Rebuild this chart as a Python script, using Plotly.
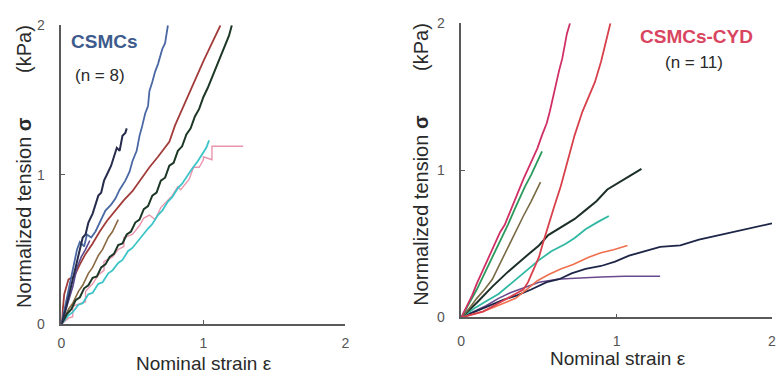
import plotly.graph_objects as go

W, H = 777, 382

# ---------------- Left panel: CSMCs (n = 8) ----------------
L_navy_x = [0, 0.03, 0.06, 0.08, 0.11, 0.13, 0.15, 0.17, 0.19, 0.22, 0.24, 0.26, 0.28, 0.30, 0.33, 0.35, 0.37, 0.39, 0.41, 0.43, 0.45, 0.46]
L_navy_y = [0, 0.10, 0.22, 0.30, 0.42, 0.50, 0.58, 0.60, 0.68, 0.74, 0.80, 0.86, 0.88, 0.96, 1.02, 1.06, 1.12, 1.18, 1.16, 1.26, 1.28, 1.31]

L_blue_x = [0, 0.03, 0.06, 0.09, 0.11, 0.13, 0.16, 0.18, 0.21, 0.24, 0.27, 0.31, 0.35, 0.38, 0.41, 0.45, 0.48, 0.50, 0.53, 0.55, 0.57, 0.59, 0.61, 0.62, 0.64, 0.66, 0.68, 0.71, 0.73, 0.74, 0.75]
L_blue_y = [0, 0.14, 0.28, 0.42, 0.50, 0.55, 0.52, 0.60, 0.58, 0.62, 0.68, 0.76, 0.80, 0.84, 0.90, 0.96, 1.02, 1.09, 1.16, 1.26, 1.33, 1.41, 1.46, 1.56, 1.62, 1.69, 1.74, 1.84, 1.88, 1.94, 2.00]

L_maroon_x = [0, 0.02, 0.05, 0.09, 0.13, 0.17, 0.22, 0.27, 0.32, 0.38, 0.44, 0.50, 0.56, 0.62, 0.68, 0.72, 0.76, 0.80, 0.85, 0.90, 0.95, 1.00, 1.05, 1.09, 1.12]
L_maroon_y = [0, 0.20, 0.30, 0.32, 0.40, 0.47, 0.54, 0.62, 0.69, 0.76, 0.83, 0.89, 0.97, 1.05, 1.12, 1.17, 1.22, 1.33, 1.44, 1.55, 1.66, 1.76, 1.86, 1.94, 2.00]

L_dkgreen_x = [0, 0.04, 0.07, 0.10, 0.13, 0.16, 0.19, 0.22, 0.25, 0.28, 0.31, 0.34, 0.37, 0.40, 0.43, 0.46, 0.49, 0.52, 0.55, 0.58, 0.61,
               0.64, 0.67, 0.70, 0.73, 0.76, 0.79, 0.82, 0.85, 0.88, 0.91, 0.94, 0.97, 1.00, 1.03, 1.06, 1.09, 1.12, 1.15, 1.18, 1.20]
L_dkgreen_y = [0, 0.07, 0.10, 0.16, 0.18, 0.24, 0.26, 0.31, 0.32, 0.38, 0.40, 0.45, 0.47, 0.53, 0.54, 0.60, 0.62, 0.68, 0.70, 0.77, 0.79,
               0.86, 0.88, 0.96, 0.98, 1.06, 1.08, 1.16, 1.19, 1.27, 1.31, 1.39, 1.44, 1.52, 1.58, 1.65, 1.72, 1.78, 1.86, 1.93, 2.00]

L_olive_x = [0, 0.05, 0.08, 0.12, 0.15, 0.19, 0.22, 0.26, 0.29, 0.33, 0.36, 0.40]
L_olive_y = [0, 0.10, 0.14, 0.22, 0.26, 0.34, 0.38, 0.46, 0.50, 0.58, 0.62, 0.70]

L_cyan_x = [0, 0.05, 0.08, 0.12, 0.15, 0.19, 0.22, 0.26, 0.29, 0.33, 0.36, 0.40, 0.43, 0.47, 0.50, 0.54, 0.57, 0.61, 0.64, 0.68,
            0.71, 0.75, 0.78, 0.82, 0.85, 0.89, 0.92, 0.96, 0.99, 1.02, 1.04]
L_cyan_y = [0, 0.06, 0.08, 0.13, 0.14, 0.20, 0.21, 0.27, 0.28, 0.34, 0.36, 0.41, 0.43, 0.49, 0.51, 0.56, 0.59, 0.64, 0.67, 0.73,
            0.76, 0.82, 0.85, 0.91, 0.94, 1.00, 1.04, 1.09, 1.14, 1.18, 1.23]

L_pink_x = [0, 0.05, 0.08, 0.08, 0.14, 0.17, 0.17, 0.22, 0.26, 0.30, 0.30, 0.36, 0.40, 0.44, 0.44, 0.50, 0.55, 0.58, 0.62, 0.66,
            0.70, 0.72, 0.78, 0.82, 0.84, 0.90, 0.93, 0.97, 1.00, 1.00, 1.06, 1.06, 1.28]
L_pink_y = [0, 0.04, 0.05, 0.12, 0.14, 0.15, 0.22, 0.27, 0.33, 0.36, 0.42, 0.45, 0.50, 0.52, 0.58, 0.60, 0.66, 0.71, 0.73, 0.70,
            0.78, 0.80, 0.86, 0.92, 0.90, 0.97, 1.05, 1.05, 1.10, 1.12, 1.10, 1.19, 1.19]

L_purple_x = [0, 0.04, 0.08, 0.11, 0.14, 0.17, 0.20]
L_purple_y = [0, 0.12, 0.25, 0.38, 0.45, 0.50, 0.56]

# ---------------- Right panel: CSMCs-CYD (n = 11) ----------------
R_magenta_x = [0, 0.04, 0.07, 0.10, 0.13, 0.16, 0.19, 0.22, 0.25, 0.28, 0.31, 0.34, 0.37, 0.40, 0.43, 0.46, 0.49, 0.52, 0.55,
               0.57, 0.59, 0.61, 0.63, 0.65, 0.67, 0.68, 0.70]
R_magenta_y = [0, 0.09, 0.15, 0.23, 0.30, 0.37, 0.45, 0.52, 0.58, 0.63, 0.71, 0.78, 0.87, 0.94, 1.01, 1.08, 1.15, 1.24, 1.32,
               1.40, 1.50, 1.58, 1.68, 1.76, 1.86, 1.93, 2.00]

R_red_x = [0, 0.07, 0.14, 0.21, 0.28, 0.34, 0.40, 0.43, 0.46, 0.50, 0.53, 0.56, 0.60, 0.64, 0.68, 0.73, 0.78, 0.82, 0.86, 0.90, 0.93, 0.96]
R_red_y = [0, 0.02, 0.04, 0.08, 0.12, 0.15, 0.19, 0.24, 0.31, 0.41, 0.52, 0.63, 0.76, 0.89, 1.04, 1.24, 1.40, 1.50, 1.60, 1.74, 1.88, 2.00]

R_green_x = [0, 0.05, 0.10, 0.15, 0.20, 0.26, 0.30, 0.35, 0.41, 0.45, 0.49, 0.52]
R_green_y = [0, 0.09, 0.19, 0.30, 0.41, 0.54, 0.63, 0.75, 0.89, 0.97, 1.06, 1.13]

R_olive_x = [0, 0.05, 0.10, 0.15, 0.20, 0.25, 0.30, 0.35, 0.40, 0.45, 0.49, 0.51]
R_olive_y = [0, 0.06, 0.13, 0.19, 0.26, 0.37, 0.47, 0.58, 0.69, 0.79, 0.88, 0.92]

R_dkgreen_x = [0, 0.10, 0.20, 0.30, 0.41, 0.50, 0.56, 0.65, 0.73, 0.80, 0.87, 0.94, 1.00, 1.08, 1.16]
R_dkgreen_y = [0, 0.10, 0.21, 0.31, 0.41, 0.49, 0.56, 0.62, 0.67, 0.73, 0.79, 0.87, 0.91, 0.96, 1.01]

R_teal_x = [0, 0.08, 0.16, 0.24, 0.32, 0.41, 0.50, 0.58, 0.67, 0.73, 0.80, 0.88, 0.95]
R_teal_y = [0, 0.06, 0.11, 0.16, 0.23, 0.31, 0.39, 0.45, 0.50, 0.54, 0.60, 0.65, 0.69]

R_orange_x = [0, 0.07, 0.14, 0.21, 0.28, 0.35, 0.42, 0.49, 0.56, 0.64, 0.72, 0.82, 0.90, 0.98, 1.07]
R_orange_y = [0, 0.02, 0.04, 0.07, 0.10, 0.13, 0.19, 0.25, 0.29, 0.33, 0.36, 0.41, 0.44, 0.46, 0.49]

R_navy_x = [0, 0.09, 0.18, 0.27, 0.36, 0.45, 0.55, 0.63, 0.71, 0.80, 0.90, 0.99, 1.08, 1.18, 1.28, 1.41, 1.53, 1.66, 1.78, 1.90, 2.00]
R_navy_y = [0, 0.04, 0.08, 0.12, 0.15, 0.19, 0.24, 0.26, 0.30, 0.33, 0.35, 0.38, 0.42, 0.45, 0.48, 0.49, 0.53, 0.56, 0.59, 0.62, 0.64]

R_purple_x = [0, 0.08, 0.16, 0.24, 0.32, 0.40, 0.45, 0.50, 0.56, 0.62, 0.70, 0.77, 0.90, 1.05, 1.18, 1.28]
R_purple_y = [0, 0.04, 0.08, 0.13, 0.17, 0.20, 0.22, 0.24, 0.25, 0.26, 0.265, 0.27, 0.275, 0.28, 0.28, 0.28]

tick_vals = [0, 1, 2]
tick_text = ["0", "1", "2"]

left_series = [
    (L_pink_x, L_pink_y, "#ea94ae", 1.4),
    (L_cyan_x, L_cyan_y, "#3cc4c8", 1.8),
    (L_olive_x, L_olive_y, "#8a6a42", 1.6),
    (L_dkgreen_x, L_dkgreen_y, "#1d3826", 2.0),
    (L_maroon_x, L_maroon_y, "#a23c3a", 1.8),
    (L_purple_x, L_purple_y, "#5a4a90", 1.6),
    (L_blue_x, L_blue_y, "#4a68a4", 1.8),
    (L_navy_x, L_navy_y, "#272c4c", 2.0),
]
right_series = [
    (R_purple_x, R_purple_y, "#6a4a8e", 1.6),
    (R_navy_x, R_navy_y, "#1e2648", 1.8),
    (R_orange_x, R_orange_y, "#f0704e", 1.6),
    (R_teal_x, R_teal_y, "#2fb8a2", 1.8),
    (R_dkgreen_x, R_dkgreen_y, "#1d3028", 2.0),
    (R_olive_x, R_olive_y, "#786a44", 1.6),
    (R_green_x, R_green_y, "#2a9a5c", 1.8),
    (R_red_x, R_red_y, "#d8404c", 1.8),
    (R_magenta_x, R_magenta_y, "#d03064", 1.8),
]

fig = go.Figure()
for xs, ys, c, w in left_series:
    fig.add_trace(go.Scatter(x=xs, y=ys, mode="lines", xaxis="x", yaxis="y",
                             line=dict(color=c, width=w), showlegend=False, hoverinfo="skip"))
for xs, ys, c, w in right_series:
    fig.add_trace(go.Scatter(x=xs, y=ys, mode="lines", xaxis="x2", yaxis="y2",
                             line=dict(color=c, width=w), showlegend=False, hoverinfo="skip"))

def px_x(p):
    return p / W

def px_y(p):
    return 1 - p / H

axis_common = dict(showgrid=False, zeroline=False, showline=True, linecolor="#5a5a5a", linewidth=1.5,
                   ticks="inside", ticklen=4, tickwidth=1.2, tickcolor="#5a5a5a",
                   tickvals=tick_vals, ticktext=tick_text,
                   tickfont=dict(family="Arial", size=14, color="#555"), range=[0, 2], fixedrange=True)

fig.update_layout(
    width=W, height=H, margin=dict(l=0, r=0, t=0, b=0),
    paper_bgcolor="white", plot_bgcolor="white",
    xaxis=dict(domain=[px_x(58), px_x(345)], anchor="y", ticklabelstandoff=5, **axis_common),
    yaxis=dict(domain=[px_y(330), px_y(18)], anchor="x", ticklabelstandoff=12, **axis_common),
    xaxis2=dict(domain=[px_x(462), px_x(776)], anchor="y2", ticklabelstandoff=10, **axis_common),
    yaxis2=dict(domain=[px_y(323), px_y(16)], anchor="x2", ticklabelstandoff=12, **axis_common),
)

ytitle = "Normalized tension <b>σ</b>" + "&nbsp;" * 8 + "(kPa)"
title_font = dict(family="Arial", size=20, color="#2a2a2a")
anns = [
    dict(text=ytitle, x=px_x(20), y=px_y(165), textangle=-90, font=title_font),
    dict(text=ytitle, x=px_x(422), y=px_y(163), textangle=-90, font=title_font),
    dict(text="Nominal strain ε", x=px_x(202), y=px_y(371), font=dict(family="Arial", size=19, color="#2a2a2a")),
    dict(text="Nominal strain ε", x=px_x(620), y=px_y(366), font=dict(family="Arial", size=19, color="#2a2a2a")),
    dict(text="<b>CSMCs</b>", x=px_x(102), y=px_y(35), font=dict(family="Arial", size=19, color="#3d5b8c")),
    dict(text="(n = 8)", x=px_x(97), y=px_y(70), font=dict(family="Arial", size=17, color="#2a2a2a")),
    dict(text="<b>CSMCs-CYD</b>", x=px_x(700), y=px_y(30), font=dict(family="Arial", size=19, color="#d94560")),
    dict(text="(n = 11)", x=px_x(697), y=px_y(57), font=dict(family="Arial", size=17, color="#2a2a2a")),
]
for a in anns:
    fig.add_annotation(xref="paper", yref="paper", showarrow=False, xanchor="center", yanchor="middle", **a)

fig.write_html("out.html")
